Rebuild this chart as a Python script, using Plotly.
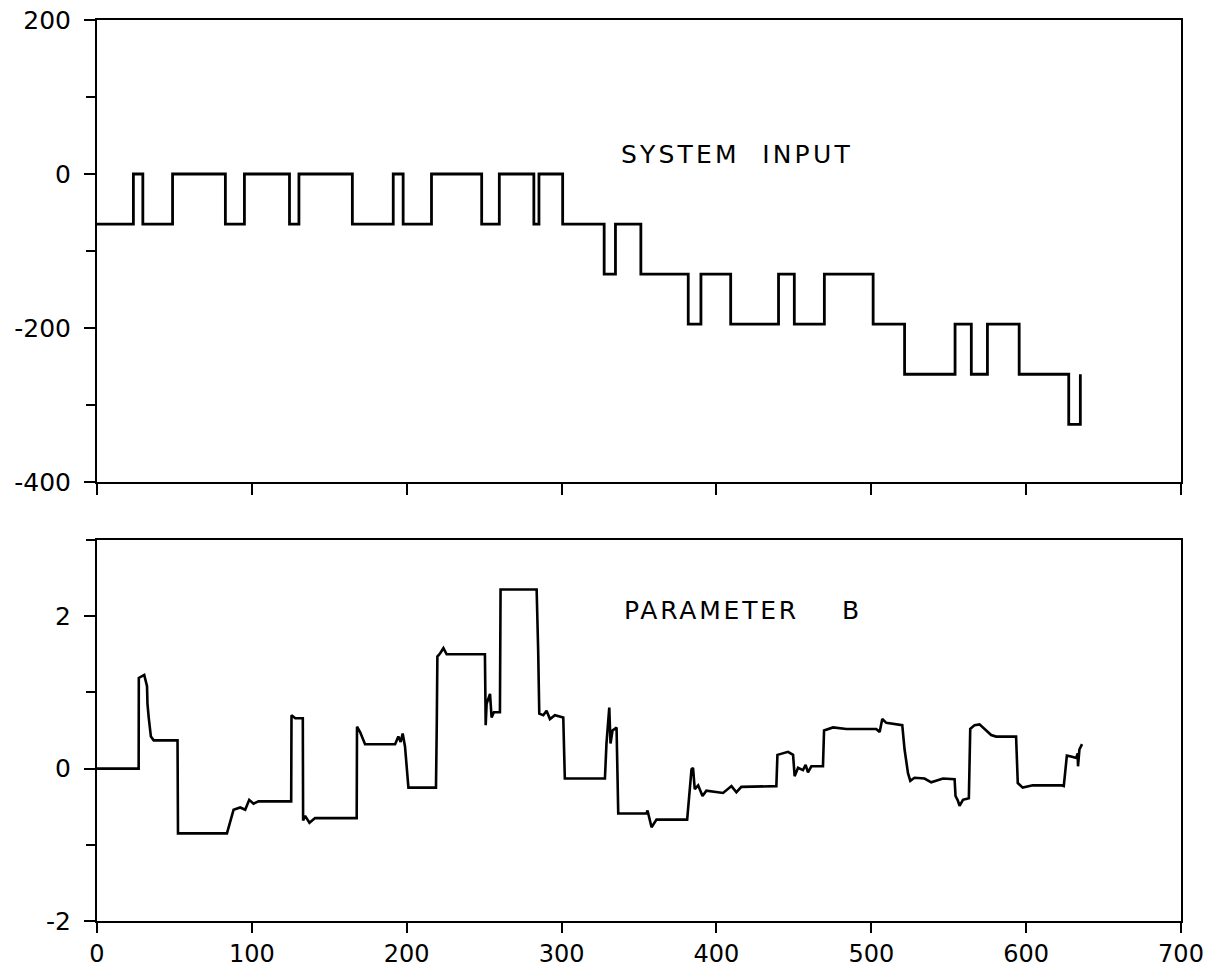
import plotly.graph_objects as go

# ---- System input: piecewise-constant command (switch times and levels) ----
input_t = [0, 23.5, 29.6, 48.8, 82.9, 95.2, 124.3, 130.4, 164.9, 191.3, 197.7,
           216.0, 248.4, 259.8, 282.1, 285.4, 300.7, 327.5, 334.8, 351.2, 381.8,
           390.0, 409.2, 440.1, 450.3, 469.7, 501.2, 521.5, 554.1, 564.6, 575.0,
           595.5, 627.5, 635.0]
input_level = [-65, 0, -65, 0, -65, 0, -65, 0, -65, 0, -65,
               0, -65, 0, -65, 0, -65, -130, -65, -130, -195,
               -130, -195, -130, -195, -130, -195, -260, -195, -260, -195,
               -260, -325, -260]

# ---- Estimated parameter B ----
param_t = [0, 26.9, 27.0, 29.0, 30.5, 32.3, 32.6, 33.4, 34.8, 36.6, 52.0, 52.3,
           83.9, 86.0, 88.2, 92.5, 95.7, 98.3, 101.1, 104.3, 125.4, 125.6, 128.0,
           132.9, 133.1, 134.4, 137.2, 140.8, 167.7, 167.9, 169.9, 173.1, 192.5,
           194.6, 196.1, 197.4, 198.9, 201.1, 218.9, 219.4, 219.8, 221.5, 223.7,
           225.8, 250.5, 251.0, 251.6, 253.8, 254.8, 256.3, 260.2, 260.6, 283.9,
           284.9, 285.6, 288.2, 290.3, 292.5, 295.7, 301.1, 302.1, 328.0, 329.0,
           330.8, 331.6, 332.9, 335.5, 336.6, 354.8, 355.5, 358.1, 361.3, 381.1,
           383.9, 384.9, 386.0, 388.2, 391.0, 393.5, 404.3, 409.7, 412.9, 416.1,
           438.7, 439.4, 446.2, 449.5, 450.5, 452.7, 455.9, 457.6, 459.1, 461.3,
           468.8, 469.5, 475.3, 483.9, 503.2, 505.4, 507.1, 509.7, 520.0, 521.5,
           523.7, 525.2, 527.9, 534.4, 538.7, 546.3, 553.8, 554.4, 555.9, 557.0,
           559.2, 563.0, 563.9, 566.7, 569.9, 573.1, 577.4, 580.6, 593.5, 594.6,
           597.8, 604.3, 622.6, 624.3, 626.3, 629.0, 632.3, 633.3, 633.5, 634.4,
           636.1]
param_b = [0.0, 0.0, 1.19, 1.21, 1.23, 1.08, 0.85, 0.67, 0.42, 0.37, 0.37, -0.85,
           -0.85, -0.70, -0.54, -0.51, -0.54, -0.41, -0.46, -0.43, -0.43, 0.70, 0.66,
           0.66, -0.68, -0.62, -0.71, -0.65, -0.65, 0.55, 0.48, 0.32, 0.32,
           0.42, 0.35, 0.46, 0.29, -0.25, -0.25, 0.57, 1.47, 1.51, 1.58,
           1.50, 1.50, 0.57, 0.85, 0.98, 0.67, 0.74, 0.74, 2.35, 2.35,
           1.54, 0.72, 0.70, 0.76, 0.65, 0.70, 0.67, -0.13, -0.13, 0.33,
           0.80, 0.33, 0.50, 0.54, -0.59, -0.59, -0.55, -0.77, -0.67, -0.67,
           -0.01, 0.01, -0.27, -0.22, -0.36, -0.29, -0.32, -0.23, -0.31, -0.24,
           -0.23, 0.18, 0.22, 0.18, -0.10, 0.01, -0.02, 0.05, -0.05, 0.03,
           0.03, 0.50, 0.54, 0.52, 0.52, 0.48, 0.65, 0.60, 0.57, 0.25,
           -0.06, -0.16, -0.12, -0.13, -0.18, -0.13, -0.14, -0.36, -0.42, -0.49,
           -0.41, -0.39, 0.52, 0.57, 0.58, 0.52, 0.44, 0.42, 0.42, -0.19,
           -0.25, -0.22, -0.22, -0.23, 0.17, 0.16, 0.14, 0.20, 0.03, 0.25,
           0.32]

# ---- Axis ticks ----
x_ticks = [0, 100, 200, 300, 400, 500, 600, 700]
x_labels = ["0", "100", "200", "300", "400", "500", "600", "700"]
input_ticks = [-400, -200, 0, 200]
input_labels = ["-400", "-200", "0", "200"]
param_ticks = [-2, 0, 2]
param_labels = ["-2", "0", "2"]

FONT = "DejaVu Sans"
INK = "black"

fig = go.Figure()
fig.add_trace(go.Scatter(x=input_t, y=input_level, mode="lines",
                         line=dict(color=INK, width=2.8, shape="hv"),
                         xaxis="x", yaxis="y", showlegend=False))
fig.add_trace(go.Scatter(x=param_t, y=param_b, mode="lines",
                         line=dict(color=INK, width=2.6),
                         xaxis="x2", yaxis="y2", showlegend=False))

axis_common = dict(showline=True, linecolor=INK, linewidth=2, mirror=True,
                   showgrid=False, zeroline=False, ticks="outside",
                   ticklen=11, tickwidth=2, tickcolor=INK, automargin=False,
                   tickfont=dict(family=FONT, size=25, color=INK))

fig.update_layout(
    width=1217, height=971,
    margin=dict(l=97, r=36, t=20, b=50, autoexpand=False),
    paper_bgcolor="white", plot_bgcolor="white",
    xaxis=dict(domain=[0, 1], anchor="y", range=[0, 700],
               tickvals=x_ticks, ticktext=x_labels, showticklabels=False,
               **axis_common),
    yaxis=dict(domain=[0.4872, 1], anchor="x", range=[-400, 200],
               tickvals=input_ticks, ticktext=input_labels,
               ticklabelstandoff=8,
               minor=dict(dtick=100, tick0=0, ticks="outside", ticklen=9,
                          tickwidth=2, tickcolor=INK),
               **axis_common),
    xaxis2=dict(domain=[0, 1], anchor="y2", range=[0, 700],
                tickvals=x_ticks, ticktext=x_labels,
                **{**axis_common, "ticklen": 10,
                   "tickfont": dict(family=FONT, size=24, color=INK)}),
    yaxis2=dict(domain=[0, 0.4229], anchor="x2", range=[-2, 3],
                tickvals=param_ticks, ticktext=param_labels,
                ticklabelstandoff=8,
                minor=dict(dtick=1, tick0=0, ticks="outside", ticklen=9,
                           tickwidth=2, tickcolor=INK),
                **axis_common),
    annotations=[
        dict(x=413, y=25, xref="x", yref="y", showarrow=False,
             xanchor="center", yanchor="middle",
             text='<span style="letter-spacing:3.2px">SYSTEM\u00a0\u00a0INPUT</span>',
             font=dict(family=FONT, size=25, color=INK)),
        dict(x=417, y=2.07, xref="x2", yref="y2", showarrow=False,
             xanchor="center", yanchor="middle",
             text='<span style="letter-spacing:2.8px">PARAMETER\u00a0\u00a0\u00a0\u00a0B</span>',
             font=dict(family=FONT, size=25, color=INK)),
    ],
)

fig.write_html("out.html")
